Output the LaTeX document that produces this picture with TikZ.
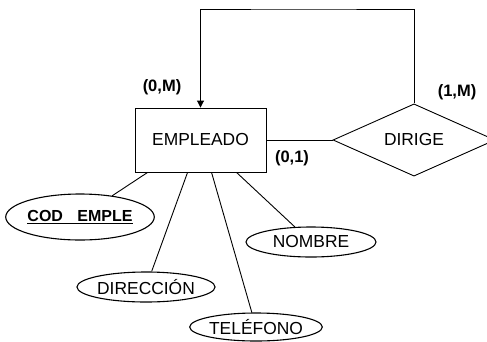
\documentclass[tikz,border=0pt]{standalone}
\usepackage{fontspec}
\setmainfont{Liberation Sans}
\usetikzlibrary{shapes.geometric,arrows.meta}
\begin{document}
\begin{tikzpicture}[x=1pt,y=-1pt,
  every node/.style={font=\fontsize{17.4}{20}\selectfont},
  ent/.style={draw,line width=0.9pt,minimum width=131pt,minimum height=64pt,inner sep=0pt},
  rel/.style={draw,diamond,line width=0.9pt,minimum width=162pt,minimum height=64pt,inner sep=0pt},
  attr/.style={draw,ellipse,line width=1.1pt,inner sep=0pt},
  card/.style={font=\fontsize{16.5}{19}\selectfont\bfseries},
  conn/.style={line width=0.9pt}]
\useasboundingbox (0,0) rectangle (487,341);
\node[ent] (emp) at (200.5,140) {EMPLEADO};
\node[rel] (dir) at (414,140) {DIRIGE};
\node[attr,minimum width=134pt,minimum height=46pt] (cod) at (80,217) {\fontsize{16}{19}\selectfont\bfseries\underline{COD\hspace{0.9em}EMPLE}};
\node[attr,minimum width=130pt,minimum height=30pt] (dirc) at (146,287) {DIRECCIÓN};
\node[attr,minimum width=118pt,minimum height=28pt] (tel) at (256,327) {TELÉFONO};
\node[attr,minimum width=130pt,minimum height=30pt] (nom) at (311,242) {NOMBRE};
\node[card] (c0m) at (162,87) {(0,M)};
\node[card] (c1m) at (457,92) {(1,M)};
\node[card] (c01) at (292,158) {(0,1)};
\coordinate (loopc) at (300,9);
\draw[conn] (emp.east) -- (dir.west);
\draw[conn,-{Triangle[length=7pt,width=7pt]}] (dir.north) |- (loopc) -| (emp.north);
\draw[conn] ([xshift=13pt]emp.south west) -- (cod);
\draw[conn] ([xshift=53pt]emp.south west) -- (dirc);
\draw[conn] ([xshift=77pt]emp.south west) -- (tel);
\draw[conn] ([xshift=102pt]emp.south west) -- (nom);
\end{tikzpicture}
\end{document}
